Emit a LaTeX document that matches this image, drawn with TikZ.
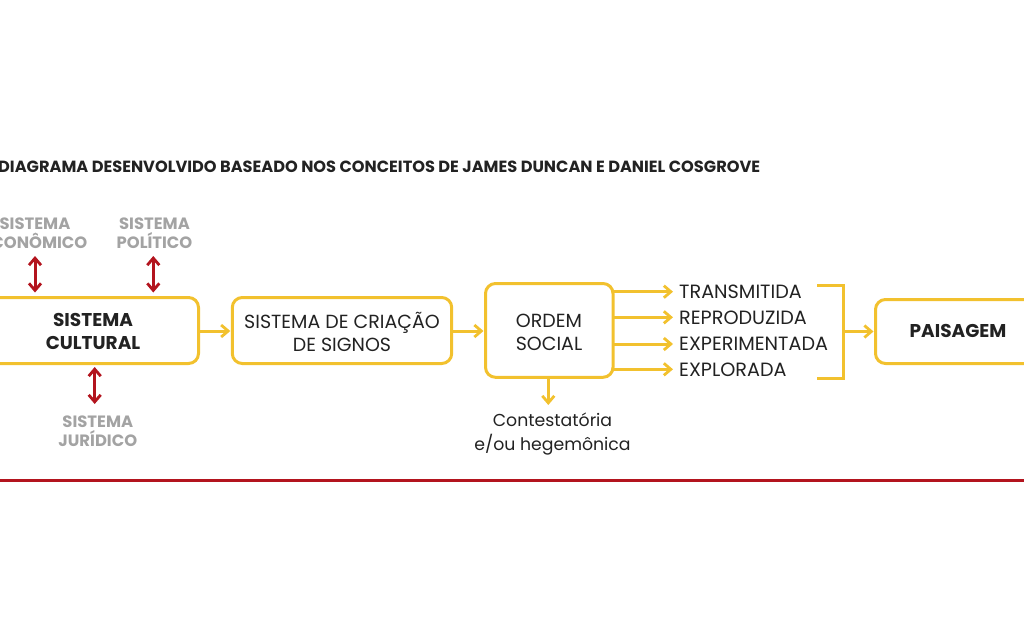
\documentclass[tikz,border=0pt]{standalone}
\usepackage{fontspec}
\setmainfont{Poppins}
\usetikzlibrary{arrows.meta,calc}
\definecolor{ylw}{HTML}{F2C12E}
\definecolor{dred}{HTML}{B3141E}
\definecolor{gry}{HTML}{A3A3A3}
\definecolor{txt}{HTML}{222222}
\begin{document}
\begin{tikzpicture}[x=1pt,y=-1pt,
  box/.style={draw=ylw,line width=3pt,rounded corners=10pt,inner sep=0pt},
  yarr/.style={draw=ylw,line width=3pt,-{Straight Barb[length=7pt,width=12pt,line width=2.8pt]}},
  rarr/.style={draw=dred,line width=3pt,{Straight Barb[length=7pt,width=12pt,line width=2.8pt]}-{Straight Barb[length=7pt,width=12pt,line width=2.8pt]}},
  lbl/.style={text=txt,font=\fontsize{19}{23}\selectfont,align=center,inner sep=0pt},
  clbl/.style={text=txt,font=\fontsize{17.3}{23.5}\selectfont,align=center,inner sep=0pt},
  blbl/.style={text=txt,font=\bfseries\fontsize{18.5}{22.5}\selectfont,align=center,inner sep=0pt},
  glbl/.style={text=gry,font=\bfseries\fontsize{16.4}{19.3}\selectfont,align=center,inner sep=0pt},
  olbl/.style={text=txt,font=\fontsize{19.2}{25}\selectfont,anchor=west,inner sep=0pt}]
\useasboundingbox (0,0) rectangle (1024,640);
\clip (0,0) rectangle (1024,640);
% title
\node[anchor=west,inner sep=0pt,text=txt,font=\bfseries\fontsize{16.2}{18}\selectfont] (title) at (-2,166.5) {DIAGRAMA DESENVOLVIDO BASEADO NOS CONCEITOS DE JAMES DUNCAN E DANIEL COSGROVE};
% boxes
\draw[box] (-12,297.5) rectangle (198.5,363.5);
\node[blbl] (cult) at (93,331.5) {SISTEMA\\CULTURAL};
\coordinate (cultR) at (198.5,331);
\coordinate (cultT1) at (35,297.5);
\coordinate (cultT2) at (153.3,297.5);
\coordinate (cultB) at (94.7,363.5);
\draw[box] (232.3,297.5) rectangle (451.7,363.5);
\node[lbl] (sig) at (342,332) {SISTEMA DE CRIAÇÃO\\DE SIGNOS};
\coordinate (sigL) at (232.3,331);
\coordinate (sigR) at (451.7,331);
\draw[box] (485.5,283.5) rectangle (613,377.3);
\node[lbl] (ord) at (549,332) {ORDEM\\SOCIAL};
\coordinate (ordL) at (485.5,331);
\coordinate (ordB) at (548.3,377.3);
\draw[box] (875.5,299.5) rectangle (1040,363.5);
\node[blbl] (pais) at (958,331.3) {PAISAGEM};
\coordinate (paisL) at (875.5,331.5);
% main arrows
\draw[yarr] (cultR) -- ($(sigL)+(-2,0)$);
\draw[yarr] (sigR) -- ($(ordL)+(-2,0)$);
% outputs
\node[olbl] (o1) at (679,291.3) {TRANSMITIDA};
\node[olbl] (o2) at (679,317.5) {REPRODUZIDA};
\node[olbl] (o3) at (679,344) {EXPERIMENTADA};
\node[olbl] (o4) at (679,369.3) {EXPLORADA};
\foreach \i/\y in {1/291.7,2/317.3,3/344,4/369.3}{
  \draw[yarr] (613,\y) -- ($(o\i.west|-0,\y)+(-6,0)$);
}
% bracket
\coordinate (brT) at (817,285);
\coordinate (brB) at (817,378);
\draw[draw=ylw,line width=3pt] (brT) -- (843,285) -- (843,378) -- (brB);
\coordinate (brM) at (843,331.5);
\draw[yarr] (brM) -- ($(paisL)+(-2,0)$);
% down arrow
\node[clbl] (cont) at (552.5,434) {Contestatória\\e/ou hegemônica};
\draw[yarr] (ordB) -- (548.3,405);
% grey systems
\node[glbl] (eco) at (35,233) {SISTEMA\\ECONÔMICO};
\node[glbl] (pol) at (154.5,233) {SISTEMA\\POLÍTICO};
\node[glbl] (jur) at (97.8,431.5) {SISTEMA\\JURÍDICO};
\draw[rarr] (35,256) -- ($(cultT1)+(0,-5)$);
\draw[rarr] (153.3,256) -- ($(cultT2)+(0,-5)$);
\draw[rarr] ($(cultB)+(0,3.5)$) -- (94.7,404);
% red rule
\draw[dred,line width=2.5pt] (0,480.7) -- (1024,480.7);
\end{tikzpicture}
\end{document}
